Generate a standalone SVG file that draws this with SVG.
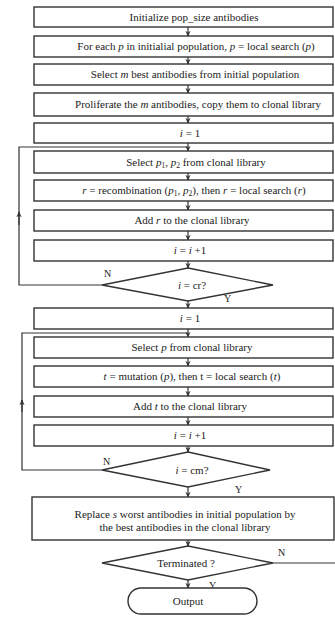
<svg xmlns="http://www.w3.org/2000/svg" width="335" height="617" viewBox="0 0 335 617">
<style>
.b{fill:#fff;stroke:#333;stroke-width:1.4}
.l{fill:none;stroke:#333;stroke-width:1.2}
.t{font-family:"Liberation Serif","Times New Roman",serif;font-size:11px;fill:#222;text-anchor:middle}
.lb{font-family:"Liberation Serif","Times New Roman",serif;font-size:10px;fill:#222}
.i{font-style:italic}
.s{font-size:7.5px}
</style>
<defs>
<marker id="ah" viewBox="0 0 8 8" refX="7" refY="4" markerWidth="6" markerHeight="6" orient="auto" markerUnits="userSpaceOnUse">
<path d="M0,0.5 L8,4 L0,7.5 L2.5,4 Z" fill="#333"/>
</marker>
</defs>
<rect width="335" height="617" fill="#fff"/>
<g id="connectors">
<line class="l" x1="188" y1="27" x2="188" y2="36" marker-end="url(#ah)"/>
<line class="l" x1="188" y1="57" x2="188" y2="64" marker-end="url(#ah)"/>
<line class="l" x1="188" y1="85" x2="188" y2="93" marker-end="url(#ah)"/>
<line class="l" x1="188" y1="116" x2="188" y2="123" marker-end="url(#ah)"/>
<line class="l" x1="188" y1="143" x2="188" y2="151" marker-end="url(#ah)"/>
<line class="l" x1="188" y1="173" x2="188" y2="180" marker-end="url(#ah)"/>
<line class="l" x1="188" y1="201" x2="188" y2="210" marker-end="url(#ah)"/>
<line class="l" x1="188" y1="231" x2="188" y2="240" marker-end="url(#ah)"/>
<line class="l" x1="188" y1="261" x2="188" y2="268" marker-end="url(#ah)"/>
<line class="l" x1="188" y1="301" x2="188" y2="308" marker-end="url(#ah)"/>
<line class="l" x1="188" y1="329" x2="188" y2="337" marker-end="url(#ah)"/>
<line class="l" x1="188" y1="358" x2="188" y2="366" marker-end="url(#ah)"/>
<line class="l" x1="188" y1="387" x2="188" y2="396" marker-end="url(#ah)"/>
<line class="l" x1="188" y1="417" x2="188" y2="425" marker-end="url(#ah)"/>
<line class="l" x1="188" y1="446" x2="188" y2="452" marker-end="url(#ah)"/>
<line class="l" x1="188" y1="487" x2="188" y2="497" marker-end="url(#ah)"/>
<line class="l" x1="188" y1="540" x2="188" y2="546" marker-end="url(#ah)"/>
<line class="l" x1="188" y1="580" x2="188" y2="588" marker-end="url(#ah)"/>
<polyline class="l" points="102,285 19,285 19,147 188,147"/>
<line class="l" x1="19" y1="225" x2="19" y2="212" marker-end="url(#ah)"/>
<polyline class="l" points="102,470 22,470 22,333 188,333"/>
<line class="l" x1="22" y1="412" x2="22" y2="400" marker-end="url(#ah)"/>
<line class="l" x1="273" y1="563" x2="335" y2="563"/>
<text class="lb" x="104" y="277">N</text>
<text class="lb" x="224" y="302">Y</text>
<text class="lb" x="103" y="465">N</text>
<text class="lb" x="235" y="493">Y</text>
<text class="lb" x="278" y="556">N</text>
<text class="lb" x="209" y="589">Y</text>
</g>
<g id="n1"><rect class="b" x="34" y="7" width="299" height="20"/><text class="t" x="194" y="20.5">Initialize pop_size antibodies</text></g>
<g id="n2"><rect class="b" x="34" y="36" width="299" height="21"/><text class="t" x="196" y="50">For each <tspan class="i">p</tspan> in initialial population, <tspan class="i">p</tspan> = local search (<tspan class="i">p</tspan>)</text></g>
<g id="n3"><rect class="b" x="34" y="64" width="299" height="21"/><text class="t" x="195" y="78">Select <tspan class="i">m</tspan> best antibodies from initial population</text></g>
<g id="n4"><rect class="b" x="34" y="93" width="299" height="23"/><text class="t" x="198" y="108">Proliferate the <tspan class="i">m</tspan> antibodies, copy them to clonal library</text></g>
<g id="n5"><rect class="b" x="34" y="123" width="299" height="20"/><text class="t" x="190" y="136.5"><tspan class="i">i</tspan> = 1</text></g>
<g id="n6"><rect class="b" x="34" y="151" width="299" height="22"/><text class="t" x="196" y="165.5">Select <tspan class="i">p</tspan><tspan class="s" dy="2">1</tspan><tspan dy="-2">, </tspan><tspan class="i">p</tspan><tspan class="s" dy="2">2</tspan><tspan dy="-2"> from clonal library</tspan></text></g>
<g id="n7"><rect class="b" x="34" y="180" width="299" height="21"/><text class="t" x="194" y="194"><tspan class="i">r</tspan> = recombination (<tspan class="i">p</tspan><tspan class="s" dy="2">1</tspan><tspan dy="-2">, </tspan><tspan class="i">p</tspan><tspan class="s" dy="2">2</tspan><tspan dy="-2">), then </tspan><tspan class="i">r</tspan> = local search (<tspan class="i">r</tspan>)</text></g>
<g id="n8"><rect class="b" x="34" y="210" width="299" height="21"/><text class="t" x="192" y="224">Add <tspan class="i">r</tspan> to the clonal library</text></g>
<g id="n9"><rect class="b" x="34" y="240" width="299" height="21"/><text class="t" x="190" y="254"><tspan class="i">i</tspan> = <tspan class="i">i</tspan> +1</text></g>
<g id="d1"><polygon class="b" points="188,268 273,285 188,301 102,285"/><text class="t" x="192" y="288.5"><tspan class="i">i</tspan> = cr?</text></g>
<g id="n10"><rect class="b" x="34" y="308" width="299" height="21"/><text class="t" x="190" y="322"><tspan class="i">i</tspan> = 1</text></g>
<g id="n11"><rect class="b" x="34" y="337" width="299" height="21"/><text class="t" x="192" y="351">Select <tspan class="i">p</tspan> from clonal library</text></g>
<g id="n12"><rect class="b" x="34" y="366" width="299" height="21"/><text class="t" x="192" y="380"><tspan class="i">t</tspan> = mutation (<tspan class="i">p</tspan>), then t = local search (<tspan class="i">t</tspan>)</text></g>
<g id="n13"><rect class="b" x="34" y="396" width="299" height="21"/><text class="t" x="190" y="410">Add <tspan class="i">t</tspan> to the clonal library</text></g>
<g id="n14"><rect class="b" x="34" y="425" width="299" height="21"/><text class="t" x="190" y="439"><tspan class="i">i</tspan> = <tspan class="i">i</tspan> +1</text></g>
<g id="d2"><polygon class="b" points="188,452 270,470 188,487 102,470"/><text class="t" x="192" y="473.5"><tspan class="i">i</tspan> = cm?</text></g>
<g id="n15"><rect class="b" x="32" y="497" width="302" height="43"/><text class="t" x="185" y="517.5">Replace <tspan class="i">s</tspan> worst antibodies in initial population by</text><text class="t" x="185" y="530.5">the best antibodies in the clonal library</text></g>
<g id="d3"><polygon class="b" points="188,546 273,563 188,580 102,563"/><text class="t" x="186" y="566.5">Terminated ?</text></g>
<g id="n16"><rect class="b" x="128" y="588" width="129" height="26" rx="13" ry="13"/><text class="t" x="188" y="604.5">Output</text></g>
</svg>
